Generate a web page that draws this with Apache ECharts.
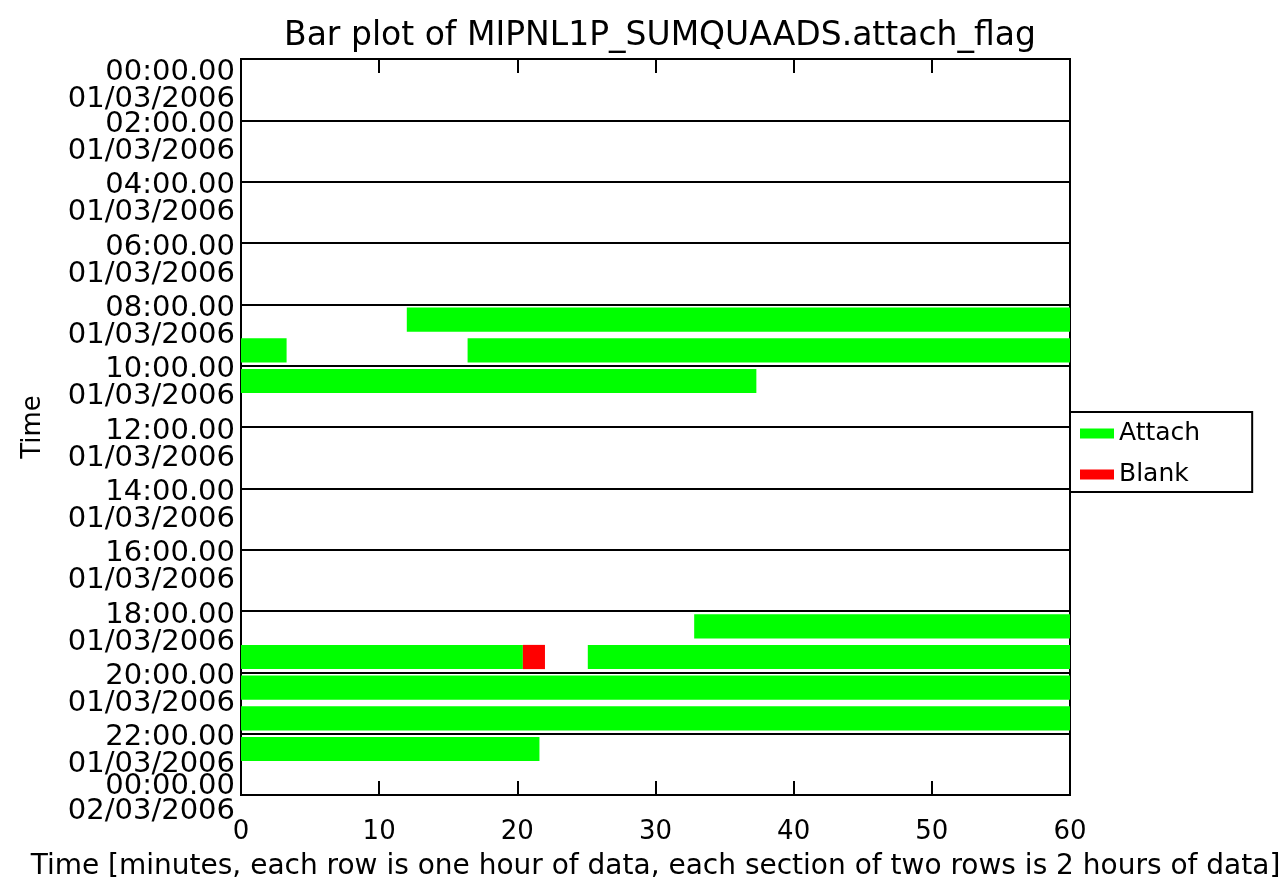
<!DOCTYPE html>
<html>
<head>
<meta charset="utf-8">
<script src="https://cdn.jsdelivr.net/npm/echarts@6/dist/echarts.min.js"></script>
<style>
  html, body { margin: 0; padding: 0; background: #fff; }
  #main { width: 1284px; height: 877px; }
</style>
</head>
<body>
<div id="main"></div>
<script>
// tick labels on the time axis (every 2 hours)
var timeLabels = ['00:00.00', '02:00.00', '04:00.00', '06:00.00', '08:00.00', '10:00.00',
  '12:00.00', '14:00.00', '16:00.00', '18:00.00', '20:00.00', '22:00.00', '00:00.00'];
var dateLabels = ['01/03/2006', '01/03/2006', '01/03/2006', '01/03/2006', '01/03/2006', '01/03/2006',
  '01/03/2006', '01/03/2006', '01/03/2006', '01/03/2006', '01/03/2006', '01/03/2006', '02/03/2006'];
var minuteTicks = [0, 10, 20, 30, 40, 50, 60];

// [hour row, start minute, end minute]
var attachData = [
  [8, 12.0, 60], [9, 0, 3.3], [9, 16.4, 60], [10, 0, 37.3],
  [18, 32.8, 60], [19, 0, 20.4], [19, 25.1, 60],
  [20, 0, 60], [21, 0, 60], [22, 0, 21.6]
];
var blankData = [[19, 20.4, 22.0]];

function renderBar(params, api) {
  var row = api.value(0);
  var p0 = api.coord([api.value(1), row + 0.5]);
  var p1 = api.coord([api.value(2), row + 0.5]);
  var h = api.size([0, 1])[1] * 0.79;
  return {
    type: 'rect',
    shape: { x: p0[0], y: p0[1] - h / 2, width: p1[0] - p0[0], height: h },
    style: { fill: api.visual('color') }
  };
}

var font = 'DejaVu Sans';
var labelFont = { fontFamily: font, fontSize: 29, color: '#000', align: 'right' };
var last = timeLabels.length - 1;
var chart = echarts.init(document.getElementById('main'));
chart.setOption({
  animation: false,
  backgroundColor: '#fff',
  title: {
    text: 'Bar plot of MIPNL1P_SUMQUAADS.attach_flag',
    left: 655, top: 15, textAlign: 'center',
    textStyle: { fontFamily: font, fontSize: 33, fontWeight: 'normal', color: '#000' }
  },
  legend: {
    orient: 'vertical', left: 1070, top: 412,
    padding: [9, 52, 5, 10], itemGap: 16,
    itemWidth: 34, itemHeight: 10, icon: 'rect',
    borderColor: '#000', borderWidth: 2, backgroundColor: '#fff',
    textStyle: { fontFamily: font, fontSize: 25, color: '#000' },
    data: ['Attach', 'Blank']
  },
  grid: {
    left: 241, right: 214, top: 59, bottom: 82,
    outerBoundsMode: 'none', containLabel: false,
    show: true, borderColor: '#000', borderWidth: 2
  },
  xAxis: [{
    type: 'value', min: 0, max: 60, interval: 10, position: 'bottom',
    name: 'Time [minutes, each row is one hour of data, each section of two rows is 2 hours of data]',
    nameLocation: 'middle', nameGap: 58,
    nameTextStyle: { fontFamily: font, fontSize: 28, color: '#000' },
    axisLine: { show: true, onZero: false, lineStyle: { color: '#000', width: 2 } },
    axisTick: { show: true, inside: true, length: 14, lineStyle: { color: '#000', width: 2 } },
    axisLabel: {
      margin: 24, fontFamily: font, fontSize: 26, color: '#000',
      showMinLabel: true, showMaxLabel: true,
      formatter: function (v) { return minuteTicks.indexOf(v) >= 0 ? String(v) : ''; }
    },
    splitLine: { show: false }
  }, {
    type: 'value', min: 0, max: 60, interval: 10, position: 'top',
    axisLine: { show: true, onZero: false, lineStyle: { color: '#000', width: 2 } },
    axisTick: { show: true, inside: true, length: 14, lineStyle: { color: '#000', width: 2 } },
    axisLabel: { show: false },
    splitLine: { show: false }
  }],
  yAxis: [{
    // inner labels 02:00 .. 22:00, hanging from their tick
    type: 'value', min: 0, max: 24, interval: 2, inverse: true, position: 'left',
    name: 'Time', nameLocation: 'middle', nameGap: 195, nameRotate: 90,
    nameTextStyle: { fontFamily: font, fontSize: 26, color: '#000' },
    axisLine: { show: true, onZero: false, lineStyle: { color: '#000', width: 2 } },
    axisTick: { show: false },
    splitLine: { show: true, lineStyle: { color: '#000', width: 2 } },
    axisLabel: {
      margin: 6, verticalAlign: 'top', hideOverlap: false,
      rich: {
        t: Object.assign({ lineHeight: 8 }, labelFont),
        d: Object.assign({ lineHeight: 46 }, labelFont)
      },
      formatter: function (v) {
        var i = Math.round(v / 2);
        if (i === 0 || i === last) return '';
        return '{t|' + timeLabels[i] + '}\n{d|' + dateLabels[i] + '}';
      }
    }
  }, {
    // first and last labels
    type: 'value', min: 0, max: 24, interval: 24, inverse: true, position: 'left',
    axisLine: { show: false }, axisTick: { show: false }, splitLine: { show: false },
    axisLabel: {
      margin: 6, verticalAlign: 'middle',
      showMinLabel: true, showMaxLabel: true,
      rich: {
        e: Object.assign({ lineHeight: 54 }, labelFont),
        t0: Object.assign({ lineHeight: 26 }, labelFont),
        d0: Object.assign({ lineHeight: 28 }, labelFont),
        t1: Object.assign({ lineHeight: 32 }, labelFont),
        d1: Object.assign({ lineHeight: 18 }, labelFont)
      },
      formatter: function (v) {
        var i = Math.round(v / 2);
        if (i === 0) return '{e| }\n{t0|' + timeLabels[i] + '}\n{d0|' + dateLabels[i] + '}';
        if (i === last) return '{t1|' + timeLabels[i] + '}\n{d1|' + dateLabels[i] + '}';
        return '';
      }
    }
  }],
  series: [{
    name: 'Attach', type: 'custom', color: '#00ff00',
    renderItem: renderBar, encode: { x: [1, 2], y: 0 },
    data: attachData
  }, {
    name: 'Blank', type: 'custom', color: '#ff0000',
    renderItem: renderBar, encode: { x: [1, 2], y: 0 },
    data: blankData
  }]
});
</script>
</body>
</html>
